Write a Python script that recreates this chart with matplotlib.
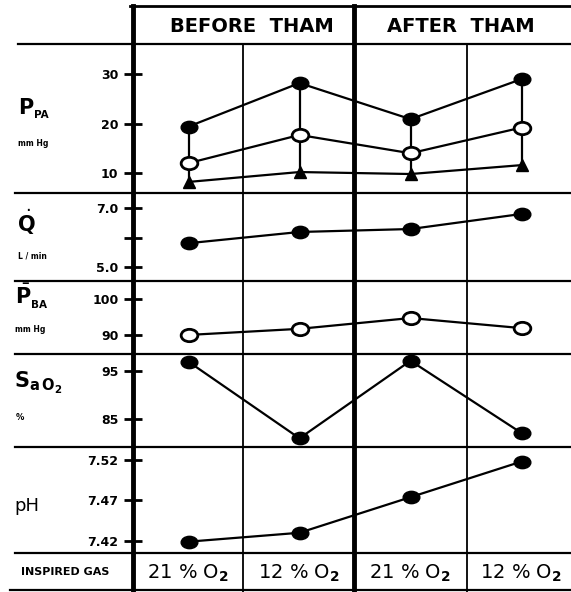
import matplotlib.pyplot as plt
from matplotlib.path import Path
from matplotlib.transforms import Affine2D

plt.rcParams['font.family'] = 'DejaVu Sans'
plt.rcParams['mathtext.fontset'] = 'dejavusans'

# data, one value per inspired-gas column
columns = [r'21 % O$_\mathbf{2}$', r'12 % O$_\mathbf{2}$', r'21 % O$_\mathbf{2}$', r'12 % O$_\mathbf{2}$']
ppa_high = [19.4, 28.2, 20.9, 29.0]
ppa_mean = [12.0, 17.7, 14.0, 19.2]
ppa_low = [8.2, 10.2, 9.8, 11.6]
q_flow = [5.81, 6.19, 6.29, 6.80]
pba = [90.0, 91.7, 94.7, 91.9]
sao2 = [96.9, 81.0, 97.1, 82.1]
ph = [7.419, 7.430, 7.474, 7.518]

W, H = 571, 592
fig = plt.figure(figsize=(W / 100, H / 100), dpi=100)

# slightly flattened dots like the hand-drawn original
oval = Affine2D().scale(1.35, 1.0).transform_path(Path.unit_circle())

# background axes in pixel units for the table frame
bg = fig.add_axes([0, 0, 1, 1])
bg.set_xlim(0, W)
bg.set_ylim(H, 0)
bg.axis('off')

X0, X1 = 133, 577  # plotting region of the panels (pixels)


def panel(top, bottom, ylim, ticks, labels):
    ax = fig.add_axes([X0 / W, (H - bottom) / H, (X1 - X0) / W, (bottom - top) / H])
    ax.patch.set_alpha(0)
    for s in ax.spines.values():
        s.set_visible(False)
    ax.set_xlim(-0.5, 3.5)
    ax.set_ylim(*ylim)
    ax.set_xticks([])
    ax.set_yticks(ticks)
    ax.set_yticklabels(labels, fontsize=9, fontweight='bold')
    ax.tick_params(axis='y', direction='inout', length=13, width=2, pad=4)
    return ax


xs = range(len(columns))
filled = dict(color='black', lw=1.6, marker=oval, ms=12, mfc='black', mec='black')
hollow = dict(color='black', lw=1.6, marker=oval, ms=12, mfc='white', mec='black', mew=2)

# PPA panel
ax = panel(44, 193, (5.96, 36.1), [10, 20, 30], ['10', '20', '30'])
for i in xs:
    ax.plot([i, i], [ppa_low[i], ppa_high[i]], color='black', lw=1.6, zorder=1)
ax.plot(xs, ppa_high, **filled)
ax.plot(xs, ppa_mean, **hollow)
ax.plot(xs, ppa_low, color='black', lw=1.6, marker='^', ms=9, mfc='black', mec='black')

# cardiac output
ax = panel(193, 281, (4.53, 7.51), [5.0, 6.0, 7.0], ['5.0', '', '7.0'])
ax.plot(xs, q_flow, **filled)

# mean brachial artery pressure
ax = panel(281, 354, (84.7, 105.0), [90, 100], ['90', '100'])
ax.plot(xs, pba, **hollow)

# arterial saturation
ax = panel(354, 447, (79.2, 98.5), [85, 95], ['85', '95'])
ax.plot(xs, sao2, **filled)

# pH
ax = panel(447, 553, (7.405, 7.536), [7.42, 7.47, 7.52], ['7.42', '7.47', '7.52'])
ax.plot(xs, ph, **filled)

# frame lines
bg.plot([130, W], [6, 6], color='black', lw=2)
bg.plot([18, W], [44, 44], color='black', lw=1.6)
for y in [193, 281, 354, 447, 553]:
    bg.plot([15, W], [y, y], color='black', lw=1.6)
bg.plot([10, W], [590, 590], color='black', lw=1.6)
bg.plot([133, 133], [6, H], color='black', lw=3.5)
bg.plot([354, 354], [6, H], color='black', lw=3.5)
bg.plot([243, 243], [44, H], color='black', lw=1.3)
bg.plot([467, 467], [44, H], color='black', lw=1.3)

# headers
bg.text(252, 27, 'BEFORE  THAM', fontsize=14, fontweight='bold', ha='center', va='center')
bg.text(461, 27, 'AFTER  THAM', fontsize=14, fontweight='bold', ha='center', va='center')

# row labels
bg.text(18, 114, 'P', fontsize=15, fontweight='bold', va='baseline')
bg.text(34, 118, 'PA', fontsize=7.5, fontweight='bold', va='baseline')
bg.text(18, 143, 'mm Hg', fontsize=5.5, fontweight='bold', va='center')
bg.text(17, 232, r'$\dot{\mathbf{Q}}$', fontsize=15, va='baseline')
bg.text(18, 256, 'L / min', fontsize=5.5, fontweight='bold', va='center')
bg.text(15, 304, r'$\bar{\mathbf{P}}$', fontsize=15, va='baseline')
bg.text(31, 308, 'BA', fontsize=7.5, fontweight='bold', va='baseline')
bg.text(15, 330, 'mm Hg', fontsize=5.5, fontweight='bold', va='center')
bg.text(14, 388, r'$\mathbf{S_{a\,O_2}}$', fontsize=15, va='baseline')
bg.text(16, 418, '%', fontsize=6, fontweight='bold', va='center')
bg.text(14, 506, 'pH', fontsize=13, va='center')

# inspired gas row
bg.text(65, 572, 'INSPIRED GAS', fontsize=8, fontweight='bold', ha='center', va='center')
for cx, lab in zip([188, 299, 410, 521], columns):
    bg.text(cx, 573, lab, fontsize=14, ha='center', va='center')

fig.savefig('out.png', dpi=100)
